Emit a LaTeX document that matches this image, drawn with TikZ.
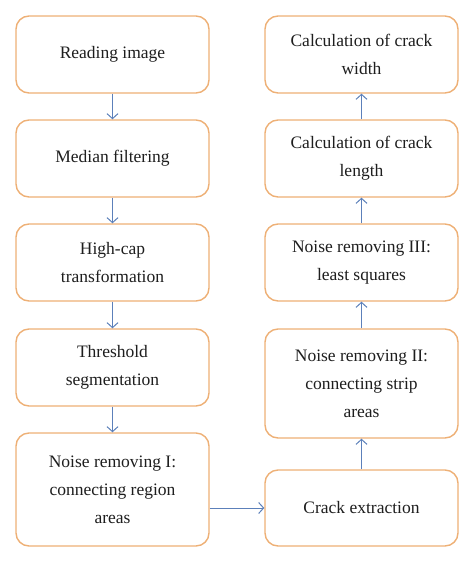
\documentclass[tikz,border=0pt]{standalone}
\usepackage{fontspec}
\setmainfont{Liberation Serif}
\usetikzlibrary{arrows.meta}

\definecolor{boxline}{RGB}{238,176,118}
\definecolor{arrowline}{RGB}{92,128,186}
\definecolor{boxtext}{RGB}{30,30,30}

\tikzset{
  stepbox/.style={draw=boxline, line width=1.4pt, rounded corners=13pt,
    fill=white, text=boxtext, align=center, inner sep=0pt,
    minimum width=193pt, font=\fontsize{17.5}{28}\selectfont},
  flow/.style={draw=arrowline, line width=1pt,
    -{Straight Barb[length=5pt,width=11pt]}}
}

\begin{document}
\begin{tikzpicture}[x=1pt,y=-1pt]
    % marco de la imagen
    \useasboundingbox (0,0) rectangle (474,563);

    % columnas
    \def\xL{112.5}
    \def\xR{361.5}

    % --- columna izquierda ---
    \node[stepbox, minimum height=77pt]  (read)   at (\xL,54.5)  {Reading image};
    \node[stepbox, minimum height=77pt]  (median) at (\xL,158.5) {Median filtering};
    \node[stepbox, minimum height=77pt]  (highcap) at (\xL,262.5) {High-cap\\transformation};
    \node[stepbox, minimum height=77pt]  (thresh) at (\xL,367.5) {Threshold\\segmentation};
    \node[stepbox, minimum height=113pt] (noiseA) at (\xL,489.5) {Noise removing I:\\connecting region\\areas};

    % --- columna derecha ---
    \node[stepbox, minimum height=76pt]  (extract) at (\xR,508)  {Crack extraction};
    \node[stepbox, minimum height=109pt] (noiseB)  at (\xR,383.5) {Noise removing II:\\connecting strip\\areas};
    \node[stepbox, minimum height=77pt]  (noiseC)  at (\xR,262.5) {Noise removing III:\\least squares};
    \node[stepbox, minimum height=77pt]  (length)  at (\xR,158.5) {Calculation of crack\\length};
    \node[stepbox, minimum height=77pt]  (width)   at (\xR,54.5)  {Calculation of crack\\width};

    % flechas
    \draw[flow] (read) -- (median);
    \draw[flow] (median) -- (highcap);
    \draw[flow] (highcap) -- (thresh);
    \draw[flow] (thresh) -- (noiseA);
    \draw[flow] (noiseA.east |- extract.west) -- (extract.west);
    \draw[flow] (extract) -- (noiseB);
    \draw[flow] (noiseB) -- (noiseC);
    \draw[flow] (noiseC) -- (length);
    \draw[flow] (length) -- (width);
\end{tikzpicture}
\end{document}
